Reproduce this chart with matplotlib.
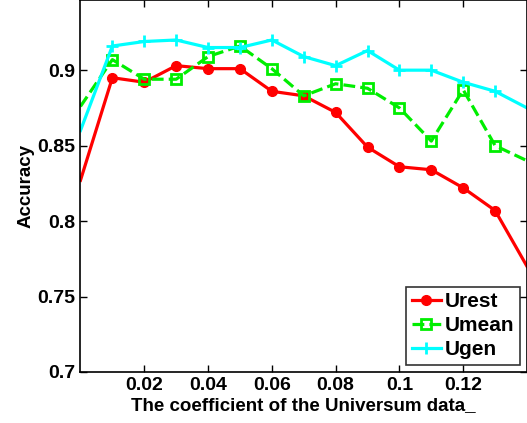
import matplotlib
matplotlib.use('Agg')
import matplotlib.pyplot as plt
import numpy as np

coef = [0.0, 0.01, 0.02, 0.03, 0.04, 0.05, 0.06, 0.07, 0.08, 0.09, 0.10, 0.11, 0.12, 0.13, 0.14]
urest = [0.827, 0.895, 0.892, 0.903, 0.901, 0.901, 0.886, 0.883, 0.872, 0.849, 0.836, 0.834, 0.822, 0.807, 0.770]
umean = [0.876, 0.907, 0.894, 0.894, 0.909, 0.916, 0.901, 0.883, 0.891, 0.888, 0.875, 0.853, 0.887, 0.850, 0.840]
ugen = [0.860, 0.916, 0.919, 0.920, 0.915, 0.915, 0.920, 0.909, 0.903, 0.913, 0.900, 0.900, 0.892, 0.886, 0.875]
xticks = [0.02, 0.04, 0.06, 0.08, 0.1, 0.12]
yticks = [0.7, 0.75, 0.8, 0.85, 0.9]

plt.rcParams['font.family'] = 'Liberation Sans'
plt.rcParams['font.weight'] = 'bold'

fig = plt.figure(figsize=(5.27, 4.23), dpi=100)
ax = fig.add_axes([0.1527, 0.1206, 0.8473, 0.8794])

# end points sit on the axes edges, no markers drawn there
mk = list(range(1, len(coef) - 1))
ax.plot(coef, urest, color='#ff0000', lw=2.3, marker='o', ms=7, markevery=mk, label='Urest')
ax.plot(coef, umean, color='#00ee00', lw=2.3, ls='--', marker='s', ms=7,
        mfc='none', mew=2, markevery=mk, label='Umean')
ax.plot(coef, ugen, color='#00ffff', lw=2.3, marker='+', ms=9, mew=2, markevery=mk, label='Ugen')

ax.set_xlim(0, 0.14)
ax.set_ylim(0.7, 0.9465)
ax.set_xticks(xticks)
ax.set_xticklabels(['0.02', '0.04', '0.06', '0.08', '0.1', '0.12'])
ax.set_yticks(yticks)
ax.set_yticklabels(['0.7', '0.75', '0.8', '0.85', '0.9'])
ax.tick_params(direction='in', top=True, right=True, labelsize=14, length=5, width=1)
for lab in ax.get_xticklabels() + ax.get_yticklabels():
    lab.set_fontweight('bold')
for s in ax.spines.values():
    s.set_linewidth(1.2)

ax.set_xlabel('The coefficient of the Universum data_', fontsize=13.5, fontweight='bold', labelpad=2)
ax.set_ylabel('Accuracy', fontsize=13.5, fontweight='bold', labelpad=2)

leg = ax.legend(loc='lower right', fontsize=15, frameon=True, fancybox=False,
                edgecolor='black', handlelength=1.4, handletextpad=0.2,
                borderpad=0.25, labelspacing=0.25, borderaxespad=0.35)
leg.get_frame().set_linewidth(1.2)
for t in leg.get_texts():
    t.set_fontweight('bold')

fig.savefig('out.png', dpi=100)
